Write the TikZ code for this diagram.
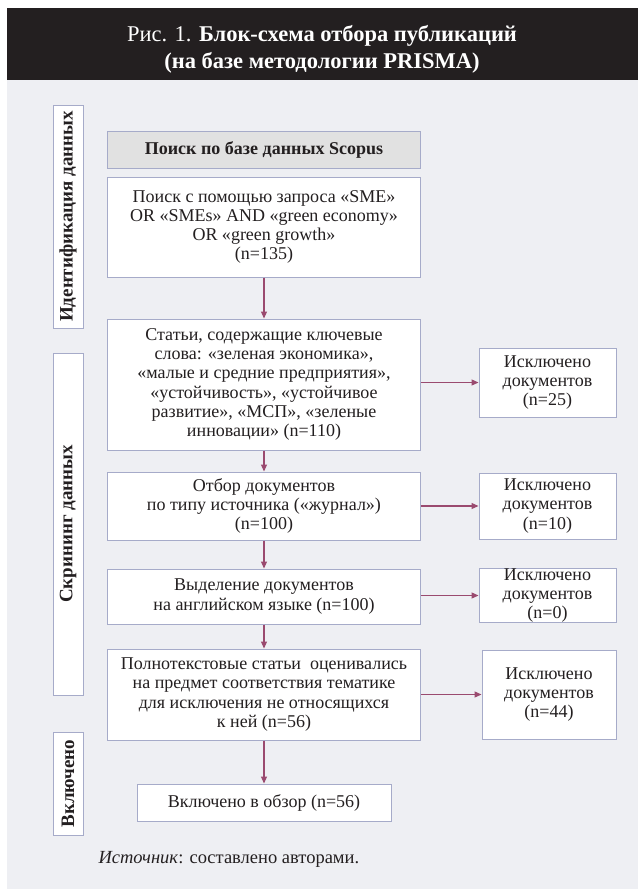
\documentclass[tikz,border=0pt]{standalone}
\usepackage{fontspec}
\setmainfont{Liberation Serif}
\usetikzlibrary{arrows.meta}
\definecolor{bg}{HTML}{EEEFF3}
\definecolor{titlebar}{HTML}{231F20}
\definecolor{frame}{HTML}{A6ABC9}
\definecolor{headgrey}{HTML}{E1E1E1}
\definecolor{ink}{HTML}{231F20}
\definecolor{flowc}{HTML}{9A4A6F}

\begin{document}
\begin{tikzpicture}[x=1pt,y=-1pt,line join=miter,
  box/.style={draw=frame,line width=1pt,fill=white,text=ink,align=center,inner sep=0pt,
    font=\fontsize{18}{19.3}\selectfont},
  mainbox/.style={box,minimum width=313},
  exclbox/.style={box,minimum width=137},
  phase/.style={box,rotate=90,minimum height=30,font=\fontsize{19}{19}\selectfont\bfseries},
  flow/.style={flowc,line width=1.2pt,-{Triangle[length=7pt,width=6pt]}}]
  \useasboundingbox (0,0) rectangle (638,889);
  \fill[titlebar] (7,8) rectangle (638,80);
  \fill[bg] (7,80) rectangle (638,889);
  \node[text=white,align=center,font=\fontsize{22.5}{27}\selectfont] (title) at (322,49)
    {Рис. 1. \textbf{Блок-схема отбора публикаций}\\\textbf{(на базе методологии PRISMA)}};

  % ===== phases (left column) =====
  \node[phase,minimum width=223] (ident) at (68,216.5) {Идентификация данных};
  \node[phase,minimum width=342] (screen) at (68,524) {Скрининг данных};
  \node[phase,minimum width=103] (incl) at (68,783.5) {Включено};

  % ===== main column =====
  \node[mainbox,fill=headgrey,minimum height=37,font=\fontsize{18}{19.3}\selectfont\bfseries] (head) at (264,149.5)
    {Поиск по базе данных Scopus};
  \node[mainbox,minimum height=100] (query) at (264,227)
    {Поиск с помощью запроса «SME»\\OR «SMEs» AND «green economy»\\OR «green growth»\\(n=135)};
  \node[mainbox,minimum height=131] (keyw) at (264,384.5)
    {Статьи, содержащие ключевые\\слова: «зеленая экономика»,\\«малые и средние предприятия»,\\«устойчивость», «устойчивое\\развитие», «МСП», «зеленые\\инновации» (n=110)};
  \node[mainbox,minimum height=68] (srctype) at (264,506)
    {Отбор документов\\по типу источника («журнал»)\\(n=100)};
  \node[mainbox,minimum height=55] (lang) at (264,596.5)
    {Выделение документов\\на английском языке (n=100)};
  \node[mainbox,minimum height=91] (fulltext) at (264,694.5)
    {Полнотекстовые статьи~ оценивались\\на предмет соответствия тематике\\для исключения не относящихся\\к ней (n=56)};
  \node[box,minimum width=254,minimum height=37] (review) at (264,802.5)
    {Включено в обзор (n=56)};

  % ===== excluded (right column) =====
  \node[exclbox,minimum height=69] (excl1) at (547.5,382.5) {Исключено\\документов\\(n=25)};
  \node[exclbox,minimum height=66] (excl2) at (547.5,506) {Исключено\\документов\\(n=10)};
  \node[exclbox,minimum height=53] (excl3) at (547.5,595.5) {Исключено\\документов\\(n=0)};
  \node[box,minimum width=134,minimum height=89] (excl4) at (549,694.5) {Исключено\\документов\\(n=44)};

  % ===== arrows =====
  \draw[flow] (query) -- (keyw);
  \draw[flow] (keyw) -- (srctype);
  \draw[flow] (srctype) -- (lang);
  \draw[flow] (lang) -- (fulltext);
  \draw[flow] (fulltext) -- (review);
  \draw[flow] (keyw.east |- excl1.west) -- (excl1.west);
  \draw[flow] (srctype.east |- excl2.west) -- (excl2.west);
  \draw[flow] (lang.east |- excl3.west) -- (excl3.west);
  \draw[flow] (fulltext.east |- excl4.west) -- (excl4.west);

  \node[anchor=base west,text=ink,font=\fontsize{18.5}{20}\selectfont] (source) at (95,863)
    {\textit{Источник}: составлено авторами.};
\end{tikzpicture}
\end{document}
